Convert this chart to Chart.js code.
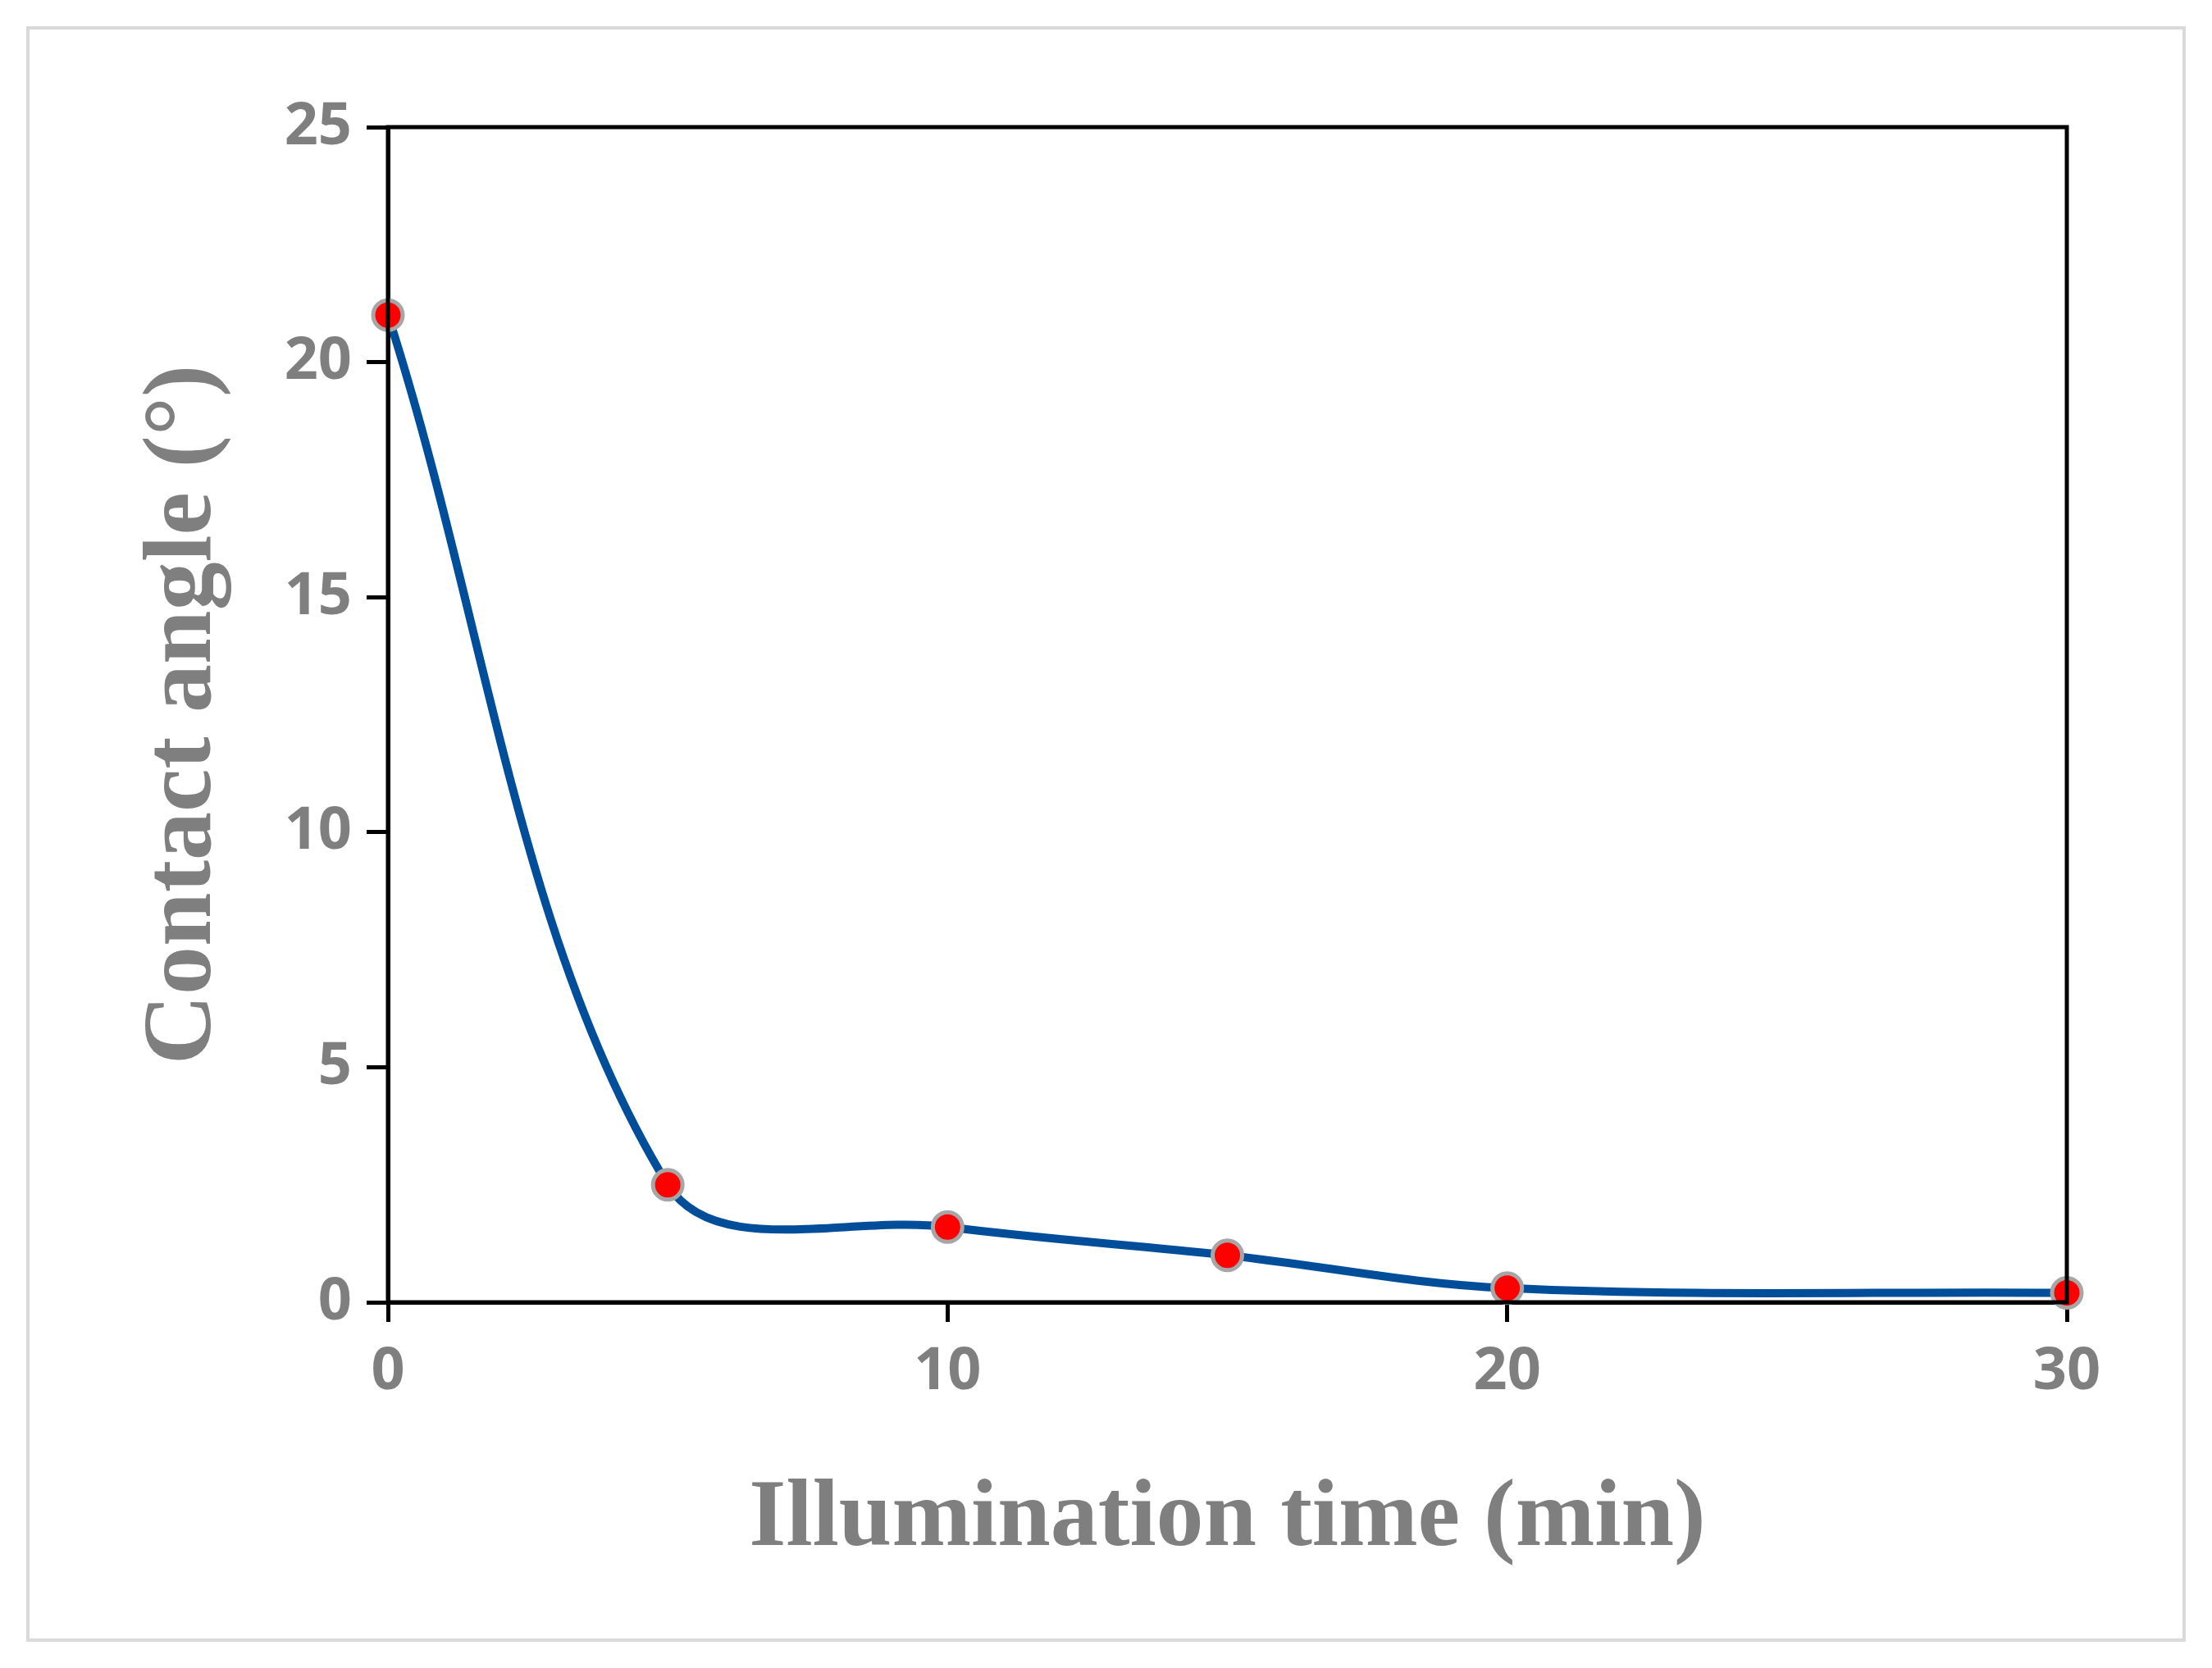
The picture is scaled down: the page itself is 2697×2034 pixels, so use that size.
<!DOCTYPE html>
<html>
<head>
<meta charset="utf-8">
<script src="https://cdn.jsdelivr.net/npm/chart.js@4"></script>
<style>
html, body { margin: 0; padding: 0; background: #fff; }
</style>
</head>
<body>
<canvas id="angle" width="2697" height="2034"></canvas>
<script>
var times = [0, 5, 10, 15, 20, 30];
var angles = [21, 2.5, 1.6, 1.0, 0.3, 0.2];
var xTicks = [0, 10, 20, 30];
var yTicks = [0, 5, 10, 15, 20, 25];

var grey = 'rgb(127, 127, 127)';

var frame = {
    id: 'frame',
    beforeDraw: function(chart) {
        var c = chart.ctx;
        c.save();
        c.strokeStyle = 'rgb(217, 217, 217)';
        c.lineWidth = 4;
        c.strokeRect(34, 34, 2629, 1966);
        c.restore();
    },
    afterDatasetsDraw: function(chart) {
        var a = chart.chartArea;
        var c = chart.ctx;
        c.save();
        c.strokeStyle = '#000';
        c.lineWidth = 5;
        c.strokeRect(a.left, a.top, a.right - a.left, a.bottom - a.top);
        c.restore();
    }
};

new Chart(document.getElementById('angle'), {
    type: 'line',
    data: {
        datasets: [{
            data: times.map(function(t, i) { return {x: t, y: angles[i]}; }),
            borderColor: 'rgb(0, 77, 153)',
            borderWidth: 10,
            tension: 0.35,
            fill: false,
            pointRadius: 18,
            pointBackgroundColor: 'rgb(255, 0, 0)',
            pointBorderColor: 'rgb(166, 166, 166)',
            pointBorderWidth: 5,
            clip: false
        }]
    },
    plugins: [frame],
    options: {
        responsive: false,
        animation: false,
        layout: { padding: { left: 151, top: 155, right: 177, bottom: 106 } },
        plugins: { legend: { display: false }, tooltip: { enabled: false } },
        scales: {
            x: {
                type: 'linear',
                min: 0, max: 30,
                afterBuildTicks: function(axis) { axis.ticks = xTicks.map(function(v) { return {value: v}; }); },
                afterFit: function(axis) { axis.height = 340; },
                grid: { drawOnChartArea: false, color: '#000', lineWidth: 5, tickLength: 24 },
                border: { color: '#000', width: 5 },
                ticks: { color: grey, font: { family: 'Open Sans', weight: 'bold', size: 72 }, padding: 18, maxRotation: 0 },
                title: { display: true, text: 'Illumination time (min)', color: grey,
                         font: { family: 'Liberation Serif', weight: 'bold', size: 116 }, padding: { top: 10 } }
            },
            y: {
                min: 0, max: 25,
                afterBuildTicks: function(axis) { axis.ticks = yTicks.map(function(v) { return {value: v}; }); },
                afterFit: function(axis) { axis.width = 322; },
                grid: { drawOnChartArea: false, color: '#000', lineWidth: 5, tickLength: 26 },
                border: { color: '#000', width: 5 },
                ticks: { color: grey, font: { family: 'Open Sans', weight: 'bold', size: 72 }, padding: 18 },
                title: { display: true, text: 'Contact angle (°)', color: grey,
                         font: { family: 'Liberation Serif', weight: 'bold', size: 118 }, padding: { bottom: 20 } }
            }
        }
    }
});
</script>
</body>
</html>
